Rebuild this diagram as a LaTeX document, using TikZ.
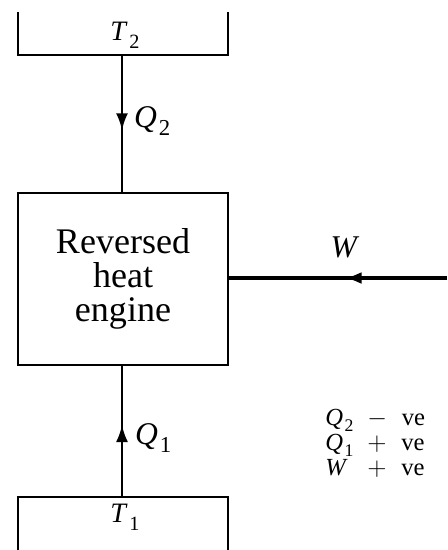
\documentclass[tikz,border=0pt]{standalone}
\usepackage{fontspec}
\setmainfont{Liberation Serif}
\usetikzlibrary{arrows.meta, positioning, decorations.markings}
\newcommand{\thermsym}[2]{\textit{#1}\kern0.06em\raisebox{-0.28em}{\scalebox{0.72}{#2}}}
\tikzset{
    % Components
    engine/.style = {draw=black, line width=1.3pt, rectangle, minimum width=4.2cm, minimum height=3.44cm,
        align=center, font=\fontsize{20.5}{19.5}\selectfont},
    reservoir/.style = {draw=black, line width=1.3pt},
    % Edges and annotations
    flow/.style = {line width=1.3pt, postaction={decorate},
        decoration={markings, mark=at position #1 with {\arrow{Latex[length=3.4mm, width=2.4mm]}}}},
    label/.style = {font=\fontsize{18}{20}\selectfont, inner sep=1pt},
    legend/.style = {font=\fontsize{14}{15}\selectfont, anchor=base west, inner sep=0pt}
}
\begin{document}
\begin{tikzpicture}
    \useasboundingbox (0,0) rectangle (8.94,-11);

    % Nodes
    \node (engine) [engine] at (2.46,-5.58) {Reversed\\heat\\engine};
    \coordinate (hot) at (2.44,-1.10);
    \coordinate (cold) at (2.44,-9.94);
    \coordinate (work) at (8.94,-5.56);

    % Reservoirs
    \draw [reservoir] (0.36,-0.24) -- (0.36,-1.10) -- (4.56,-1.10) -- (4.56,-0.24);
    \draw [reservoir] (0.36,-11) -- (0.36,-9.94) -- (4.56,-9.94) -- (4.56,-11);
    \node (thot) [label, font=\fontsize{16}{18}\selectfont] at (2.50,-0.70) {\thermsym{T}{2}};
    \node (tcold) [label, font=\fontsize{16}{18}\selectfont] at (2.50,-10.34) {\thermsym{T}{1}};

    % Edges
    \draw [flow=0.55] (hot) -- (hot |- engine.north);
    \node (qtwo) [label, anchor=west] at (2.64,-2.42) {\thermsym{Q}{2}};
    \draw [flow=0.55] (cold) -- (cold |- engine.south);
    \node (qone) [label, anchor=west] at (2.66,-8.76) {\thermsym{Q}{1}};
    \draw [flow=0.47, line width=2.2pt] (work) -- (engine.east |- work);
    \node (wlabel) [label] at (6.90,-4.94) {\textit{W}};

    % Sign convention
    \node (sqtwo) [legend] at (6.50,-8.50) {\thermsym{Q}{2}};
    \node (vqtwo) [legend] at (7.34,-8.50) {$-$\hspace{0.6em}ve};
    \node (sqone) [legend] at (6.50,-9.00) {\thermsym{Q}{1}};
    \node (vqone) [legend] at (7.34,-9.00) {$+$\hspace{0.6em}ve};
    \node (sw) [legend] at (6.50,-9.50) {\textit{W}};
    \node (vw) [legend] at (7.34,-9.50) {$+$\hspace{0.6em}ve};
\end{tikzpicture}
\end{document}
